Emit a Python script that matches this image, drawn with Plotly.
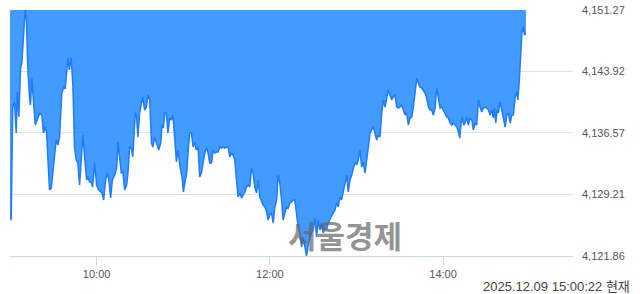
import plotly.graph_objects as go

# minutes after 09:00 open
minutes = [
    0, 0.8, 1.9, 3.1, 4.3, 5.0, 6.1, 7.3, 8.2, 9.6,
    10.5, 11.4, 12.3, 13.5, 14.2, 15.1, 16.5, 17.5, 19.3, 20.7,
    22.1, 23.2, 24.4, 25.3, 26.2, 27.4, 28.6, 30.4, 32.0, 33.2,
    34.3, 35.9, 37.3, 38.3, 40.1, 41.1, 42.4, 43.6, 44.7, 45.9,
    47.0, 48.2, 49.4, 50.5, 51.7, 53.1, 54.0, 55.1, 56.3, 57.2,
    58.6, 60.0, 61.4, 63.7, 64.9, 66.2, 67.4, 68.5, 69.7, 70.9,
    72.5, 73.9, 74.8, 76.0, 77.1, 78.2, 79.4, 80.8, 81.7, 82.9,
    84.1, 85.0, 85.9, 86.8, 87.7, 88.6, 89.8, 91.0, 91.9, 93.3,
    94.5, 95.6, 96.8, 98.0, 99.0, 100.2, 101.6, 103.0, 104.4, 105.3,
    106.3, 107.2, 108.3, 109.4, 110.6, 111.8, 112.9, 114.1, 115.3, 116.4,
    117.8, 119.2, 120.1, 121.5, 122.4, 123.3, 124.5, 125.7, 126.8, 128.0,
    129.1, 130.3, 131.4, 132.6, 133.7, 134.9, 136.3, 137.2, 138.4, 139.6,
    140.7, 141.8, 143.0, 144.1, 145.3, 146.5, 147.6, 148.8, 150.0, 151.1,
    152.2, 153.4, 154.5, 155.7, 156.9, 158.0, 159.2, 160.4, 161.5, 162.7,
    163.8, 164.9, 166.1, 167.3, 168.4, 169.6, 170.8, 171.9, 173.1, 174.3,
    175.3, 176.6, 177.8, 178.8, 180.0, 181.2, 182.3, 183.5, 184.7, 185.7,
    186.9, 188.1, 189.2, 190.4, 191.6, 192.7, 193.9, 195.0, 196.1, 197.3,
    198.5, 199.6, 200.8, 202.0, 203.1, 204.3, 205.4, 206.6, 207.7, 208.9,
    210.0, 211.2, 212.4, 213.5, 214.7, 215.9, 217.0, 218.1, 219.3, 220.4,
    221.6, 222.8, 223.9, 225.1, 226.3, 227.4, 228.5, 229.7, 230.8, 232.0,
    233.2, 234.3, 235.5, 236.7, 237.8, 239.0, 240.1, 241.2, 242.4, 243.6,
    244.7, 245.9, 247.1, 248.2, 249.4, 250.5, 251.7, 252.8, 254.0, 255.1,
    256.3, 257.5, 258.6, 259.8, 260.9, 262.0, 263.2, 264.4, 265.5, 266.7,
    267.9, 269.0, 270.2, 271.3, 272.5, 273.6, 274.8, 275.9, 277.1, 278.3,
    279.4, 280.6, 281.8, 282.9, 284.0, 285.2, 286.3, 287.5, 288.7, 289.8,
    291.0, 292.1, 293.3, 294.4, 295.6, 296.7, 297.9, 299.1, 300.2, 301.4,
    302.5, 303.7, 304.8, 306.0, 307.1, 308.3, 309.5, 310.6, 311.6, 312.5,
    313.4, 314.3, 315.2, 316.4, 317.5, 318.7, 319.9, 321.0, 322.2, 323.3,
    324.5, 325.6, 326.8, 328.0, 329.1, 330.3, 331.4, 332.6, 333.8, 334.9,
    335.6, 336.5, 337.4, 338.3, 339.5, 340.7, 341.8, 343.0, 344.2, 345.3,
    346.5, 347.6, 348.7, 349.9, 351.1, 351.8, 352.7, 353.6, 354.6, 355.5,
    356.4, 357.4,
]

prices = [
    4127.12, 4126.16, 4139.67, 4140.27, 4136.57, 4141.47, 4138.48, 4144.34, 4144.93, 4148.52,
    4151.27, 4150.07, 4144.46, 4140.87, 4139.91, 4143.14, 4139.31, 4137.52, 4138.36, 4138.96,
    4138.72, 4136.57, 4137.28, 4136.69, 4133.70, 4129.75, 4129.99, 4132.98, 4135.73, 4135.13,
    4136.09, 4141.35, 4142.06, 4141.94, 4145.53, 4144.10, 4145.65, 4142.06, 4134.89, 4133.34,
    4132.98, 4130.35, 4134.17, 4136.33, 4133.70, 4130.95, 4131.31, 4130.71, 4130.71, 4130.11,
    4132.98, 4130.35, 4129.75, 4129.39, 4128.56, 4130.95, 4131.78, 4130.95, 4128.79, 4130.95,
    4131.54, 4132.38, 4135.49, 4133.34, 4131.78, 4131.90, 4129.75, 4130.35, 4131.78, 4134.89,
    4134.77, 4133.70, 4136.33, 4138.96, 4138.48, 4136.09, 4138.96, 4140.15, 4140.87, 4139.31,
    4139.67, 4141.11, 4140.51, 4135.37, 4134.89, 4136.09, 4135.37, 4134.53, 4135.37, 4137.52,
    4137.16, 4138.96, 4138.96, 4136.57, 4138.36, 4138.12, 4138.72, 4135.73, 4133.10, 4134.53,
    4132.50, 4131.31, 4129.51, 4130.95, 4131.78, 4134.17, 4136.57, 4136.57, 4134.89, 4135.49,
    4134.53, 4134.89, 4131.31, 4131.78, 4132.98, 4134.17, 4134.77, 4134.17, 4132.98, 4132.98,
    4134.53, 4134.17, 4134.29, 4134.29, 4134.89, 4134.77, 4134.89, 4134.77, 4134.89, 4134.89,
    4133.70, 4134.17, 4133.94, 4133.34, 4130.95, 4128.91, 4129.39, 4128.79, 4129.15, 4129.51,
    4130.11, 4130.35, 4130.11, 4132.38, 4131.78, 4130.11, 4129.39, 4130.95, 4128.91, 4128.32,
    4127.96, 4127.72, 4127.12, 4126.16, 4126.76, 4127.00, 4125.81, 4127.72, 4128.56, 4131.54,
    4130.59, 4128.56, 4126.16, 4127.00, 4127.72, 4127.60, 4128.20, 4128.32, 4128.56, 4128.56,
    4127.00, 4125.33, 4124.61, 4122.94, 4124.13, 4122.94, 4121.86, 4123.18, 4124.13, 4124.61,
    4124.97, 4126.40, 4124.13, 4126.16, 4124.97, 4125.81, 4124.61, 4125.33, 4124.97, 4125.81,
    4126.16, 4126.52, 4127.00, 4127.36, 4128.20, 4127.72, 4128.91, 4128.56, 4129.51, 4130.95,
    4131.54, 4129.51, 4130.95, 4131.54, 4132.50, 4133.10, 4132.74, 4133.34, 4134.53, 4132.50,
    4133.10, 4131.78, 4133.34, 4134.89, 4136.57, 4136.92, 4137.28, 4136.57, 4135.73, 4136.33,
    4136.09, 4138.96, 4140.51, 4139.67, 4140.51, 4141.71, 4141.11, 4140.51, 4140.87, 4141.11,
    4139.67, 4139.55, 4139.67, 4139.91, 4139.31, 4138.72, 4138.96, 4137.52, 4138.36, 4138.48,
    4139.67, 4141.47, 4143.14, 4142.54, 4142.06, 4141.94, 4141.71, 4141.35, 4140.75, 4139.67,
    4139.31, 4139.31, 4138.72, 4139.55, 4141.94, 4140.87, 4139.55, 4139.67, 4139.31, 4138.96,
    4138.48, 4138.36, 4137.76, 4137.52, 4137.76, 4137.52, 4137.28, 4136.69, 4135.97, 4137.76,
    4138.48, 4137.52, 4137.76, 4138.48, 4137.52, 4138.36, 4138.12, 4136.92, 4137.76, 4137.52,
    4140.51, 4139.67, 4139.08, 4139.55, 4139.67, 4139.55, 4139.31, 4138.72, 4139.31, 4138.36,
    4139.55, 4137.76, 4139.31, 4138.96, 4140.27, 4139.31, 4138.48, 4137.28, 4138.72, 4138.96,
    4137.76, 4138.72, 4138.72, 4140.87, 4141.47, 4140.51, 4142.54, 4145.29, 4148.52, 4149.24,
    4148.28, 4148.52,
]

y_ticks = [4121.86, 4129.21, 4136.57, 4143.92, 4151.27]
y_tick_text = ["4,121.86", "4,129.21", "4,136.57", "4,143.92", "4,151.27"]
x_ticks = [60, 180, 300]
x_tick_text = ["10:00", "12:00", "14:00"]
day_high = 4151.27
day_low = 4121.86
timestamp = "2025.12.09 15:00:22 현재"
watermark = "서울경제"

fig = go.Figure()
fig.add_trace(go.Scatter(
    x=minutes, y=[day_high] * len(minutes), mode="lines",
    line=dict(width=0, color="rgba(0,0,0,0)"), hoverinfo="skip", showlegend=False,
))
fig.add_trace(go.Scatter(
    x=minutes, y=prices, mode="lines", fill="tonexty",
    fillcolor="rgba(38,140,255,0.87)",
    line=dict(color="#1f7bff", width=1.5), showlegend=False,
))

font_main = "Liberation Sans, Arial, Noto Sans CJK KR, sans-serif"
fig.update_layout(
    width=640, height=294,
    margin=dict(l=10, r=67, t=10, b=38),
    paper_bgcolor="white", plot_bgcolor="white",
    font=dict(family=font_main, size=11, color="#555555"),
    xaxis=dict(
        range=[0, 390], tickvals=x_ticks, ticktext=x_tick_text,
        showgrid=False, zeroline=False, showline=True, linecolor="#c9d6ee", linewidth=1,
        ticks="outside", ticklen=8, tickcolor="#c9d6ee", tickwidth=1,
        tickfont=dict(size=11, color="#555555"), automargin=False,
    ),
    yaxis=dict(
        range=[day_low, day_high], tickvals=y_ticks, ticktext=y_tick_text,
        side="right", showgrid=True, gridcolor="#e2e2e2", gridwidth=1,
        zeroline=False, showline=False, ticks="",
        ticklabelstandoff=8, automargin=False,
        tickfont=dict(size=11, color="#555555"),
    ),
    annotations=[
        dict(text=timestamp, xref="paper", yref="paper", x=1.1048, y=-0.126,
             xanchor="right", yanchor="middle", showarrow=False,
             font=dict(size=13, color="#444444", family=font_main)),
        dict(text="<b>" + watermark + "</b>", xref="paper", yref="paper",
             x=0.595, y=0.088, xanchor="center", yanchor="middle", showarrow=False,
             font=dict(size=31, color="rgba(100,100,100,0.7)",
                       family="Noto Sans CJK KR, sans-serif")),
    ],
)

fig.write_html("out.html")
